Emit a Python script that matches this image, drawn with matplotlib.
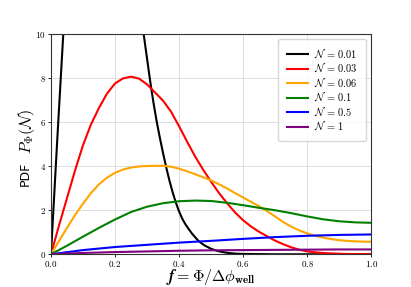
"""PDF of the flux fraction f for several noise levels N."""

import matplotlib
matplotlib.use("Agg")
import matplotlib.pyplot as plt
from matplotlib.ticker import FuncFormatter

plt.rcParams["mathtext.fontset"] = "cm"

# values (black peaks above the y-limit)
f_001 = [0, 0.02, 0.04, 0.06, 0.1, 0.15, 0.2, 0.25, 0.28, 0.29, 0.30, 0.31,
         0.32, 0.33, 0.34, 0.35, 0.36, 0.37, 0.38, 0.39, 0.40, 0.41, 0.42,
         0.43, 0.44, 0.45, 0.46, 0.47, 0.48, 0.5, 0.52, 0.54, 0.56, 0.58,
         0.6, 0.7, 0.8, 0.9, 1.0]
p_001 = [0, 5.3, 10.4, 14, 20, 23, 21, 16, 11.0, 9.95, 8.9, 7.85,
         6.9, 6.05, 5.3, 4.6, 3.95, 3.35, 2.82, 2.35, 1.95, 1.62, 1.36,
         1.15, 0.95, 0.78, 0.62, 0.5, 0.4, 0.25, 0.15, 0.09, 0.05, 0.025,
         0.015, 0, 0, 0, 0]

f_fine = [0, 0.025, 0.05, 0.075, 0.1, 0.125, 0.15, 0.175, 0.2, 0.225, 0.25,
          0.275, 0.3, 0.325, 0.35, 0.375, 0.4, 0.425, 0.45, 0.475, 0.5,
          0.525, 0.55, 0.575, 0.6, 0.625, 0.65, 0.675, 0.7, 0.725, 0.75,
          0.775, 0.8, 0.825, 0.85, 0.875, 0.9, 0.925, 0.95, 0.975, 1.0]
p_003 = [0, 1.3, 2.55, 3.8, 4.95, 5.9, 6.65, 7.3, 7.76, 7.99, 8.07,
         7.98, 7.72, 7.35, 6.98, 6.48, 5.82, 5.12, 4.45, 3.85, 3.3,
         2.78, 2.32, 1.9, 1.55, 1.26, 1.02, 0.82, 0.62, 0.46, 0.32,
         0.21, 0.13, 0.09, 0.06, 0.04, 0.025, 0.015, 0.01, 0.006, 0.005]
p_006 = [0, 0.6, 1.2, 1.78, 2.3, 2.78, 3.18, 3.48, 3.7, 3.85, 3.94,
         3.99, 4.01, 4.02, 4.02, 3.98, 3.89, 3.77, 3.64, 3.5, 3.36,
         3.18, 2.99, 2.78, 2.58, 2.38, 2.18, 1.96, 1.72, 1.47, 1.26,
         1.09, 0.95, 0.84, 0.76, 0.69, 0.64, 0.61, 0.59, 0.575, 0.57]

f_grid = [0, 0.05, 0.1, 0.15, 0.2, 0.25, 0.3, 0.35, 0.4, 0.45, 0.5,
          0.55, 0.6, 0.65, 0.7, 0.75, 0.8, 0.85, 0.9, 0.95, 1.0]
p_01 = [0, 0.39, 0.8, 1.2, 1.58, 1.92, 2.16, 2.32, 2.41, 2.44, 2.42,
        2.34, 2.23, 2.11, 2.0, 1.87, 1.72, 1.59, 1.5, 1.45, 1.43]

f_coarse = [0, 0.1, 0.2, 0.3, 0.4, 0.5, 0.6, 0.7, 0.8, 0.9, 1.0]
p_05 = [0, 0.19, 0.33, 0.43, 0.53, 0.61, 0.7, 0.78, 0.84, 0.88, 0.9]
p_1 = [0, 0.06, 0.1, 0.13, 0.16, 0.18, 0.19, 0.2, 0.21, 0.22, 0.22]

labels = ["0.01", "0.03", "0.06", "0.1", "0.5", "1"]
colors = ["black", "red", "orange", "green", "blue", "purple"]

series = [
    (f_001, p_001),
    (f_fine, p_003),
    (f_fine, p_006),
    (f_grid, p_01),
    (f_coarse, p_05),
    (f_coarse, p_1),
]

fig = plt.figure(figsize=(4.11, 2.87), dpi=100)
ax = fig.add_axes([0.124, 0.114, 0.779, 0.767])

for (x, y), lab, col in zip(series, labels, colors):
    ax.plot(x, y, color=col, lw=1.5, label=rf"$\mathcal{{N}}\,=\,{lab}$")

ax.set_xlim(0, 1)
ax.set_ylim(0, 10)
ax.set_xticks([0, 0.2, 0.4, 0.6, 0.8, 1.0])
ax.set_yticks([0, 2, 4, 6, 8, 10])
ax.xaxis.set_major_formatter(FuncFormatter(lambda v, _: rf"$\mathbf{{{v:.1f}}}$"))
ax.yaxis.set_major_formatter(FuncFormatter(lambda v, _: rf"$\mathbf{{{v:.0f}}}$"))
ax.tick_params(labelsize=6.5, length=2, width=0.6, pad=1.5)
ax.grid(color="#d8d8d8", lw=0.6)
for spine in ax.spines.values():
    spine.set_color("#333333")

ax.set_xlabel(r"$\boldsymbol{f} = \mathbf{\Phi}/\mathbf{\Delta}\phi_{\mathbf{well}}$",
              fontsize=11.5)
ax.xaxis.set_label_coords(0.5, -0.06)
# y label in two pieces: small sans "PDF" and a larger math part
ax.text(-0.081, 0.365, "PDF", rotation=90, ha="center", va="center",
        fontsize=9, family="DejaVu Sans", transform=ax.transAxes)
ax.text(-0.075, 0.56, r"$P_\Phi(\mathcal{N})$", rotation=90, ha="center",
        va="center", fontsize=11.5, transform=ax.transAxes)

ax.legend(loc="upper right", fontsize=7.5, handlelength=2.0, framealpha=0.8,
          borderpad=0.8, labelspacing=0.22, handletextpad=0.6)

fig.savefig("out.png", dpi=100)
